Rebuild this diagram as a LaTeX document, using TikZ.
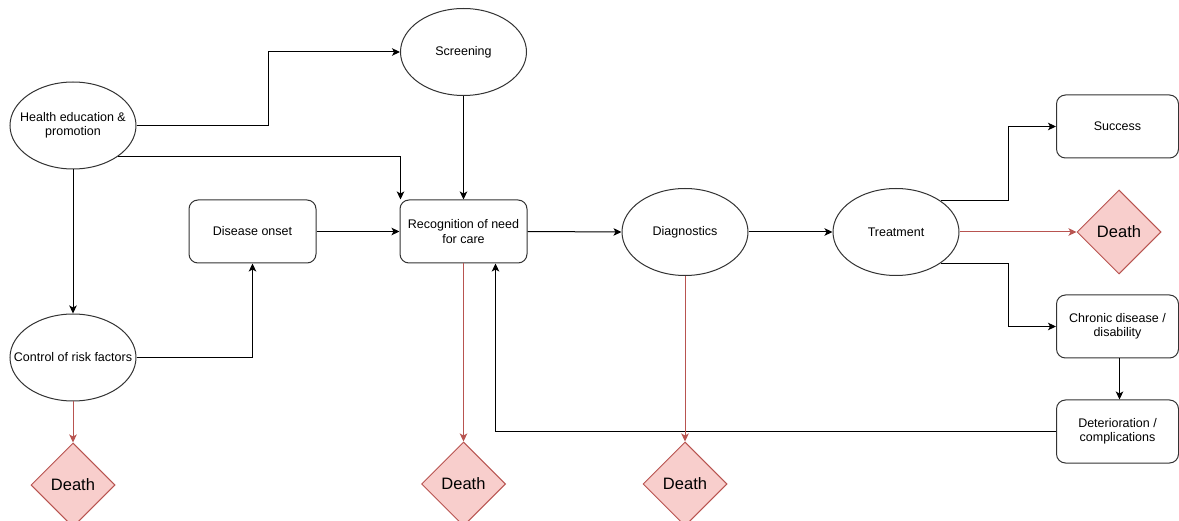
\documentclass[tikz,border=0pt]{standalone}
\usepackage{fontspec}
\setmainfont{Liberation Sans}
\usetikzlibrary{shapes.geometric,arrows.meta}
\definecolor{nodeline}{HTML}{333333}
\definecolor{redline}{HTML}{B85450}
\definecolor{redfill}{HTML}{F8CECC}
\begin{document}
\begin{tikzpicture}[x=1pt,y=-1pt,
  every node/.style={font=\fontsize{12.5}{14.5}\selectfont, align=center, text=black},
  every label/.style={font=\fontsize{12.5}{14.5}\selectfont, align=center, text=black, inner sep=0pt},
  ell/.style={ellipse, draw=nodeline, line width=1pt, minimum width=126pt, minimum height=87pt, inner sep=0pt, label={center:#1}},
  box/.style={rectangle, rounded corners=9pt, draw=nodeline, line width=1pt, minimum width=127pt, minimum height=63pt, inner sep=0pt},
  death/.style={diamond, draw=redline, fill=redfill, line width=1pt, minimum width=84pt, minimum height=84pt, inner sep=0pt, aspect=1, font=\fontsize{16.5}{18}\selectfont},
  arr/.style={draw=black, line width=1pt, -{Stealth[length=8pt,width=7.5pt,inset=2pt]}},
  rarr/.style={draw=redline, line width=1pt, -{Stealth[length=8pt,width=7.5pt,inset=2pt]}}
]
\clip (0,0) rectangle (1179,521);
\fill[white] (0,0) rectangle (1179,521);

% nodes
\node[ell={Health education \&\\promotion}] (he) at (73,125.5) {};
\node[ell={Screening}] (scr) at (463.5,52) {};
\node[ell={Control of risk factors}] (ctrl) at (73,357.5) {};
\node[box] (dis) at (252.5,231.5) {Disease onset};
\node[box] (rec) at (463.5,231.5) {Recognition of need\\for care};
\node[ell={Diagnostics}] (diag) at (685,232) {};
\node[ell={Treatment}] (treat) at (896,232) {};
\node[box, minimum width=122pt] (succ) at (1117.5,126.5) {Success};
\node[box, minimum width=122pt] (chron) at (1117.5,326.5) {Chronic disease /\\disability};
\node[box, minimum width=122pt] (det) at (1117.5,431.5) {Deterioration /\\complications};
\node[death] (d4) at (1119,232) {Death};
\node[death] (d1) at (73,485) {Death};
\node[death] (d2) at (463.5,484) {Death};
\node[death] (d3) at (685,484) {Death};

% helper coordinates
\coordinate (k1) at (268,0);
\coordinate (k2) at (1008,0);

% black connectors
\draw[arr] (he.east) -| (k1 |- scr.west) -- (scr.west);
\draw[arr] (he.south east) -| ([xshift=1pt]rec.north west);
\draw[arr] (he.south) -- (ctrl.north);
\draw[arr] (scr.south) -- (rec.north);
\draw[arr] (dis.east) -- (rec.west);
\draw[arr] (ctrl.east) -| (dis.south);
\draw[arr] (rec.east) -- (diag.west);
\draw[arr] (diag.east) -- (treat.west);
\draw[arr] (treat.north east) -| (k2 |- succ.west) -- (succ.west);
\draw[arr] (treat.south east) -| (k2 |- chron.west) -- (chron.west);
\draw[arr] ([xshift=2pt]chron.south) -- ([xshift=2pt]det.north);
\draw[arr] (det.west) -| ([xshift=32pt]rec.south);

% red connectors
\draw[rarr] (ctrl.south) -- (d1.north);
\draw[rarr] (rec.south) -- (d2.north);
\draw[rarr] (diag.south) -- (d3.north);
\draw[rarr] (treat.east) -- (d4.west);
\end{tikzpicture}
\end{document}
